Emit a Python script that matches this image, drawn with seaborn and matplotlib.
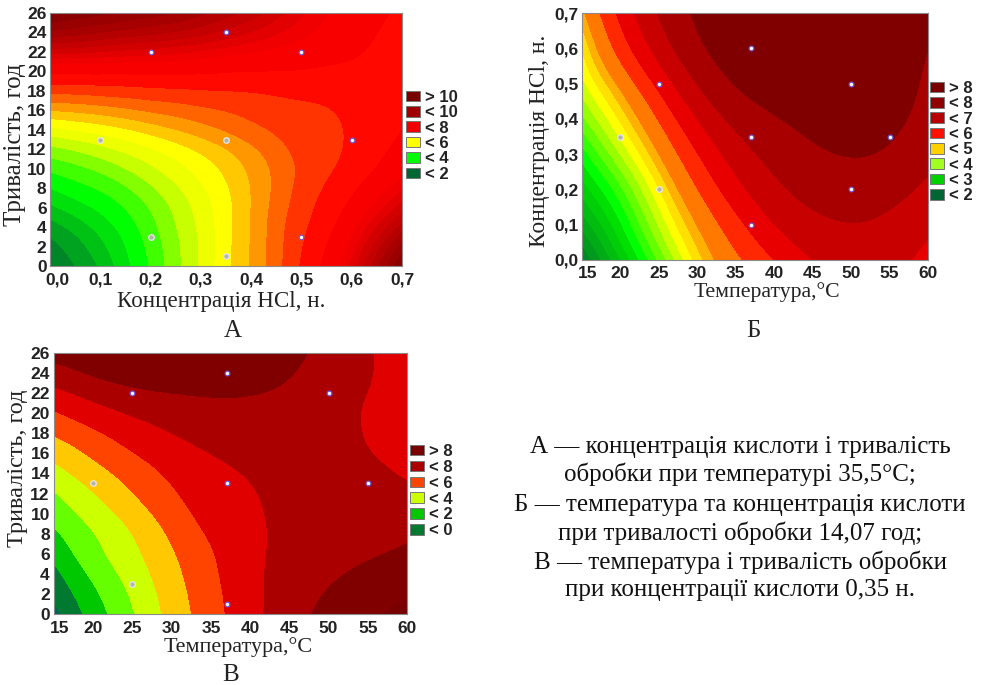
import numpy as np
import matplotlib
matplotlib.use("Agg")
import matplotlib.pyplot as plt
import matplotlib.tri as mtri
from matplotlib.patches import Patch
from matplotlib.transforms import ScaledTranslation
import seaborn as sns
import pandas as pd

W, H = 983, 685

# ---------- Panel A: concentration vs duration ----------
a_x = [0, .05, .1, .15, .2, .25, .3, .35, .4, .45, .5, .55, .6, .65, .7]
a_y = [0, 2, 4, 6, 8, 10, 12, 14, 16, 18, 20, 22, 24, 26]
a_z = [
    [1.0, 1.5, 2.0, 2.9, 3.5, 4.4, 5.0, 5.9, 6.5, 7.3, 8.1, 8.6, 9.3, 10.2, 11.0],
    [1.3, 1.7, 2.3, 3.0, 3.6, 4.4, 5.0, 5.9, 6.5, 7.3, 8.0, 8.5, 9.1, 9.9, 10.6],
    [1.7, 2.1, 2.7, 3.2, 3.8, 4.5, 5.1, 5.8, 6.5, 7.3, 7.9, 8.3, 8.9, 9.5, 10.1],
    [2.4, 2.8, 3.1, 3.5, 4.0, 4.6, 5.2, 5.8, 6.5, 7.2, 7.8, 8.2, 8.6, 9.1, 9.6],
    [3.0, 3.3, 3.5, 3.9, 4.4, 4.9, 5.4, 5.9, 6.5, 7.1, 7.7, 8.05, 8.4, 8.8, 9.2],
    [3.6, 3.8, 4.1, 4.5, 4.9, 5.3, 5.7, 6.1, 6.6, 7.1, 7.6, 7.9, 8.15, 8.5, 8.8],
    [4.3, 4.5, 4.8, 5.1, 5.4, 5.7, 6.05, 6.4, 6.85, 7.3, 7.7, 7.85, 8.05, 8.4, 8.6],
    [5.3, 5.5, 5.7, 5.9, 6.2, 6.5, 6.8, 7.1, 7.4, 7.6, 7.8, 7.85, 8.05, 8.3, 8.5],
    [6.5, 6.6, 6.7, 6.9, 7.1, 7.2, 7.4, 7.5, 7.65, 7.8, 7.9, 7.95, 8.1, 8.25, 8.4],
    [7.7, 7.7, 7.8, 7.8, 7.9, 7.9, 7.95, 8.0, 8.0, 8.05, 8.1, 8.1, 8.2, 8.2, 8.3],
    [8.6, 8.6, 8.6, 8.6, 8.6, 8.6, 8.6, 8.5, 8.5, 8.5, 8.5, 8.4, 8.4, 8.3, 8.3],
    [9.6, 9.6, 9.5, 9.4, 9.4, 9.3, 9.2, 9.1, 9.0, 8.9, 8.8, 8.7, 8.6, 8.4, 8.3],
    [10.5, 10.4, 10.3, 10.2, 10.1, 10.0, 9.9, 9.7, 9.5, 9.3, 9.1, 8.9, 8.7, 8.5, 8.3],
    [11.0, 10.9, 10.8, 10.7, 10.6, 10.5, 10.3, 10.1, 9.9, 9.6, 9.3, 9.0, 8.8, 8.6, 8.4],
]
a_pts_x = [.2, .35, .5, .1, .35, .6, .2, .35, .5]
a_pts_y = [22, 24, 22, 13, 13, 13, 3, 1, 3]
a_pts_grey = [0, 0, 0, 1, 1, 0, 1, 1, 0]
a_xticks = [0, .1, .2, .3, .4, .5, .6, .7]
a_xlabels = ["0,0", "0,1", "0,2", "0,3", "0,4", "0,5", "0,6", "0,7"]
a_yticks = list(range(0, 27, 2))
a_legend = ["> 10", "< 10", "< 8", "< 6", "< 4", "< 2"]
a_legend_colors = ["#7a0000", "#a00000", "#f00000", "#ffff00", "#00ff00", "#006633"]

# ---------- Panel B: temperature vs concentration ----------
b_x = [15, 20, 25, 30, 35, 40, 45, 50, 55, 60]
b_y = [0, .1, .2, .3, .4, .5, .6, .7]
b_z = [
    [1.5, 2.5, 3.5, 4.7, 5.4, 6.0, 6.55, 6.8, 6.7, 6.35],
    [2.1, 2.9, 4.1, 5.0, 5.8, 6.6, 6.9, 7.0, 6.9, 6.6],
    [2.6, 3.3, 4.5, 5.5, 6.4, 6.9, 7.2, 7.3, 7.2, 6.9],
    [3.1, 4.0, 5.0, 6.0, 6.8, 7.2, 7.45, 7.55, 7.5, 7.15],
    [3.7, 4.55, 5.5, 6.6, 7.2, 7.45, 7.65, 7.75, 7.65, 7.35],
    [4.2, 5.0, 6.2, 7.1, 7.6, 7.8, 7.9, 7.9, 7.8, 7.4],
    [4.5, 5.8, 6.8, 7.5, 7.8, 8.0, 8.05, 8.05, 7.9, 7.5],
    [4.9, 6.2, 7.1, 7.6, 7.9, 8.1, 8.2, 8.2, 8.0, 7.65],
]
b_pts_x = [37, 25, 50, 20, 37, 55, 25, 50, 37]
b_pts_y = [.6, .5, .5, .35, .35, .35, .2, .2, .1]
b_pts_grey = [0, 0, 0, 1, 0, 0, 1, 0, 0]
b_xticks = [15, 20, 25, 30, 35, 40, 45, 50, 55, 60]
b_yticks = [0, .1, .2, .3, .4, .5, .6, .7]
b_ylabels = ["0,0", "0,1", "0,2", "0,3", "0,4", "0,5", "0,6", "0,7"]
b_legend = ["> 8", "< 8", "< 7", "< 6", "< 5", "< 4", "< 3", "< 2"]
b_legend_colors = ["#7a0000", "#900000", "#b80000", "#ff1000", "#ffd000", "#a0ff20", "#00d000", "#006633"]

# ---------- Panel C: temperature vs duration ----------
c_x = [15, 20, 25, 30, 35, 40, 45, 50, 55, 60]
c_y = [0, 2, 4, 6, 8, 10, 12, 14, 16, 18, 20, 22, 24, 26]
c_z = [
    [-0.3, 1.5, 2.9, 4.4, 5.6, 6.7, 7.6, 8.3, 8.9, 9.2],
    [0.2, 1.8, 3.1, 4.5, 5.7, 6.7, 7.5, 8.1, 8.5, 8.95],
    [0.7, 2.3, 3.4, 4.7, 5.8, 6.8, 7.4, 7.85, 8.2, 8.4],
    [1.3, 2.8, 3.7, 4.9, 5.9, 6.8, 7.3, 7.65, 7.9, 8.1],
    [1.8, 2.9, 3.9, 5.2, 6.2, 6.8, 7.25, 7.5, 7.7, 7.9],
    [2.4, 3.5, 4.4, 5.6, 6.4, 6.9, 7.2, 7.4, 7.5, 7.6],
    [2.9, 3.9, 5.0, 5.9, 6.6, 6.95, 7.2, 7.35, 7.3, 7.15],
    [3.6, 4.6, 5.4, 6.2, 6.8, 7.05, 7.25, 7.3, 7.2, 6.9],
    [4.3, 5.2, 6.0, 6.6, 7.05, 7.2, 7.3, 7.3, 7.0, 6.75],
    [5.1, 5.8, 6.5, 7.05, 7.3, 7.45, 7.45, 7.3, 6.95, 6.6],
    [5.9, 6.6, 7.1, 7.4, 7.6, 7.65, 7.55, 7.3, 6.9, 6.55],
    [6.7, 7.3, 7.9, 8.03, 8.15, 8.1, 7.85, 7.4, 7.0, 6.55],
    [7.6, 8.3, 8.4, 8.5, 8.5, 8.45, 8.1, 7.5, 7.1, 6.6],
    [8.4, 8.6, 8.8, 8.8, 8.8, 8.7, 8.35, 7.6, 7.05, 6.6],
]
c_pts_x = [25, 37, 50, 20, 37, 55, 25, 37]
c_pts_y = [22, 24, 22, 13, 13, 13, 3, 1]
c_pts_grey = [0, 0, 0, 1, 0, 0, 1, 0]
c_legend = ["> 8", "< 8", "< 6", "< 4", "< 2", "< 0"]
c_legend_colors = ["#7a0000", "#aa0000", "#ff4400", "#ccff00", "#00c800", "#007a30"]

note_lines = [
    "А — концентрація кислоти і тривалість",
    "обробки при температурі 35,5°C;",
    "Б — температура та концентрація кислоти",
    "при тривалості обробки 14,07 год;",
    "В — температура і тривалість обробки",
    "при концентрації кислоти 0,35 н.",
]

# ---------- Band colours ----------
a_levels = list(np.arange(0, 9, .5)) + list(np.arange(9, 12.01, .25))
a_bands = (["#006633"]
           + sns.blend_palette(["#006633", "#00ff00"], 6)
           + sns.blend_palette(["#40ff00", "#c8ff00"], 3)
           + ["#eeff00", "#ffff00", "#ffc800", "#ff9800", "#ff6400", "#ff3400", "#ff0800", "#f80000"]
           + sns.blend_palette(["#f00000", "#c80000", "#a00000", "#780000", "#600000"], 12))
b_levels = list(np.arange(1, 5.01, 0.25)) + [5.5, 6, 6.5, 7, 7.5, 9]
b_bands = (sns.blend_palette(["#006633", "#00e000"], 8)
           + sns.blend_palette(["#00ff00", "#ffff00"], 6)
           + ["#ffe000", "#ffb000", "#ff7800", "#ff2800", "#e80000", "#c80000", "#a80000", "#800000"])
c_levels = [-2, 0, 1, 2, 3, 4, 5, 6, 7, 8, 9, 10]
c_bands = ["#006655", "#007a30", "#00c800", "#66ff00", "#ccff00", "#ffc800",
           "#ff4400", "#e00000", "#aa0000", "#800000", "#780000"]

sns.set_theme(style="white")
plt.rcParams["font.family"] = ["Liberation Sans", "DejaVu Sans"]
fig = plt.figure(figsize=(W / 100, H / 100), dpi=100)


def smooth_field(xs, ys, zs, floor, ceil, n=180, sigma=.55):
    """Draw the read grid as a soft surface: cubic fit, then a small blur in grid cells."""
    z = np.asarray(zs, float)
    X, Y = np.meshgrid(xs, ys)
    sx, sy = max(xs) - min(xs), max(ys) - min(ys)
    tri = mtri.Triangulation(X.ravel() / sx, Y.ravel() / sy)
    f = mtri.CubicTriInterpolator(tri, z.ravel(), kind="geom")
    fx = np.linspace(min(xs), max(xs), n)
    fy = np.linspace(min(ys), max(ys), n)
    FX, FY = np.meshgrid(fx, fy)
    F = np.ma.filled(f(FX / sx, FY / sy), np.nan)
    F = np.where(np.isnan(F), np.nanmean(F), F)
    for axis, cells in ((0, len(ys) - 1), (1, len(xs) - 1)):
        s = sigma * n / cells
        r = int(3 * s)
        k = np.exp(-.5 * (np.arange(-r, r + 1) / s) ** 2)
        k /= k.sum()
        pad = [(r, r) if i == axis else (0, 0) for i in range(2)]
        P = np.pad(F, pad, mode="reflect", reflect_type="odd")
        F = np.apply_along_axis(lambda v: np.convolve(v, k, mode="valid"), axis, P)
    return fx, fy, np.clip(F, floor, ceil)


def panel(box, xs, ys, zs, levels, bands, px, py, grey, xt, xtl, yt, ytl,
          xlab, ylab, leg, legcol, legpos, xlabpos, ylabpos, letter, letpos,
          xsize, ysize, xpad, ypad, first_shift, spacing):
    l, t, r, b = box
    ax = fig.add_axes([l / W, 1 - b / H, (r - l) / W, (b - t) / H])
    fx, fy, F = smooth_field(xs, ys, zs, levels[0] + .01, levels[-1] - .01)
    ax.contourf(fx, fy, F, levels=levels, colors=bands)
    df = pd.DataFrame({"x": px, "y": py, "g": grey})
    sns.scatterplot(data=df[df.g == 0], x="x", y="y", ax=ax, s=11, color="white",
                    edgecolor="#6a5ad8", linewidth=.9, zorder=5, legend=False)
    sns.scatterplot(data=df[df.g == 1], x="x", y="y", ax=ax, s=16, color="#b4b4a8",
                    edgecolor="#e8e8f0", linewidth=.9, zorder=5, legend=False)
    ax.set_xlim(min(xs), max(xs))
    ax.set_ylim(min(ys), max(ys))
    ax.set_xticks(xt, xtl)
    ax.set_yticks(yt, ytl)
    ax.set_xlabel("")
    ax.set_ylabel("")
    ax.tick_params(axis="both", which="major", direction="in", length=3, width=.7,
                   color="#222222", labelsize=12.5, bottom=True, left=True,
                   top=True, right=True, labelcolor="#222222")
    ax.tick_params(axis="x", pad=xpad)
    ax.tick_params(axis="y", pad=ypad)
    for lb in ax.get_xticklabels() + ax.get_yticklabels():
        lb.set_fontweight("bold")
    first = ax.get_xticklabels()[0]
    first.set_transform(first.get_transform() + ScaledTranslation(first_shift / 100, 0, fig.dpi_scale_trans))
    for s in ax.spines.values():
        s.set_color("#8a8a8a")
        s.set_linewidth(.8)
    fig.text(xlabpos[0] / W, 1 - xlabpos[1] / H, xlab, family="Liberation Serif", fontsize=xsize,
             color="#222222", ha="center", va="center")
    fig.text(ylabpos[0] / W, 1 - ylabpos[1] / H, ylab, family="Liberation Serif", fontsize=ysize,
             color="#222222", ha="center", va="center", rotation=90)
    fig.text(letpos[0] / W, 1 - letpos[1] / H, letter, family="Liberation Serif", fontsize=18,
             color="#222222", ha="center", va="center")
    handles = [Patch(facecolor=c, edgecolor="#777777", linewidth=.7) for c in legcol]
    lg = fig.legend(handles, leg, loc="upper left",
                    bbox_to_anchor=(legpos[0] / W, 1 - legpos[1] / H), frameon=False,
                    handlelength=.85, handleheight=.6, handletextpad=.3,
                    labelspacing=spacing, borderpad=0, borderaxespad=0,
                    prop={"family": "Liberation Sans", "weight": "bold", "size": 12})
    for tx in lg.get_texts():
        tx.set_color("#222222")
    return ax


panel((50, 13, 402, 266), a_x, a_y, a_z, a_levels, a_bands, a_pts_x, a_pts_y, a_pts_grey,
      a_xticks, a_xlabels, a_yticks, [str(v) for v in a_yticks],
      "Концентрація HCl, н.", "Тривалість, год", a_legend, a_legend_colors, (406, 90),
      (221, 302), (15, 145), "А", (233, 331), 16.6, 18, 4.5, 2.5, 7, .02)
panel((582, 13, 928, 260), b_x, b_y, b_z, b_levels, b_bands, b_pts_x, b_pts_y, b_pts_grey,
      b_xticks, [str(v) for v in b_xticks], b_yticks, b_ylabels,
      "Температура,°C", "Концентрація HCl, н.", b_legend, b_legend_colors, (930, 81),
      (767, 292), (540, 141), "Б", (753, 331), 15.7, 16.9, 4, 2.5, 6, .02)
panel((54, 353, 407, 614), c_x, c_y, c_z, c_levels, c_bands, c_pts_x, c_pts_y, c_pts_grey,
      b_xticks, [str(v) for v in b_xticks], a_yticks, [str(v) for v in a_yticks],
      "Температура,°C", "Тривалість, год", c_legend, c_legend_colors, (410, 444),
      (238, 647), (18, 468), "В", (231, 675), 15.9, 17.5, 5, 3, 6, .05)

note_y = [447, 474, 505, 533, 562, 590]
for s, y in zip(note_lines, note_y):
    fig.text(740 / W, 1 - y / H, s, family="Liberation Serif", fontsize=18, color="#111111",
             ha="center", va="center")

fig.savefig("out.png", dpi=100, facecolor="white")
